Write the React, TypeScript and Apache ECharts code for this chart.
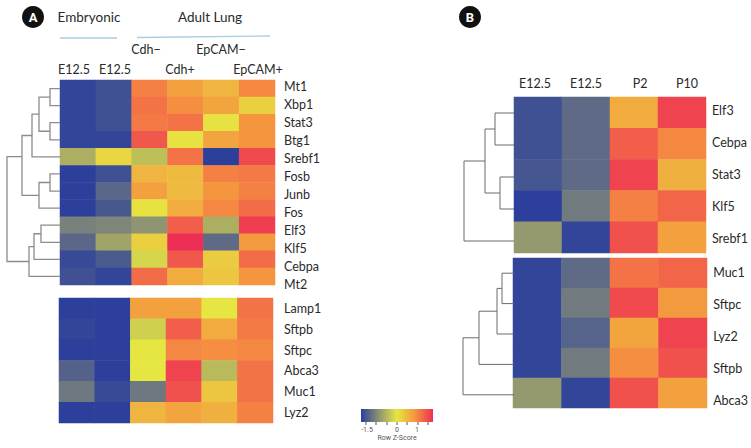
import React, { useEffect, useRef } from "react";
import * as echarts from "echarts";

const FONT = "Lato, Roboto, 'Noto Sans', sans-serif";
const WIDE = "Roboto, 'Noto Sans', sans-serif";
const INK = "#2a2a2a";

const colsA = ["E12.5", "E12.5", "Cdh−", "Cdh+", "EpCAM−", "EpCAM+"];
const colsB = ["E12.5", "E12.5", "P2", "P10"];
const rowsA1 = ["Mt1", "Xbp1", "Stat3", "Btg1", "Srebf1", "Fosb", "Junb", "Fos", "Elf3", "Klf5", "Cebpa", "Mt2"];
const rowsA2 = ["Lamp1", "Sftpb", "Sftpc", "Abca3", "Muc1", "Lyz2"];
const rowsB1 = ["Elf3", "Cebpa", "Stat3", "Klf5", "Srebf1"];
const rowsB2 = ["Muc1", "Sftpc", "Lyz2", "Sftpb", "Abca3"];

const valuesA1 = [
  [-1.45, -1.35, 0.9, 0.65, 0.45, 0.85],
  [-1.45, -1.35, 1.0, 0.8, 0.6, 0.2],
  [-1.45, -1.35, 0.95, 1.0, 0.05, 0.75],
  [-1.45, -1.45, 1.2, 0.05, 0.6, 0.75],
  [-0.5, 0.15, -0.35, 1.0, -1.5, 1.3],
  [-1.5, -1.35, 0.45, 0.4, 0.9, 0.95],
  [-1.5, -1.15, 0.65, 0.4, 0.75, 0.9],
  [-1.5, -1.28, 0.05, 0.55, 0.85, 1.05],
  [-0.92, -0.88, -0.75, 1.15, -0.5, 1.4],
  [-1.15, -0.6, 0.2, 1.5, -1.12, 0.7],
  [-1.4, -1.25, -0.15, 1.2, 0.25, 1.05],
  [-1.35, -1.45, 1.05, 0.55, 0.3, 0.75],
];
const valuesA2 = [
  [-1.5, -1.5, 0.65, 0.65, 0.0, 1.0],
  [-1.45, -1.5, -0.2, 1.15, 0.55, 0.95],
  [-1.5, -1.5, 0.0, 0.85, 0.8, 0.85],
  [-1.2, -1.5, 0.0, 1.35, -0.4, 1.0],
  [-1.0, -1.4, -1.0, 1.25, 0.3, 1.0],
  [-1.5, -1.5, 0.45, 0.6, 0.5, 0.9],
];
const valuesB1 = [
  [-1.35, -1.12, 0.55, 1.35],
  [-1.35, -1.12, 1.15, 0.85],
  [-1.3, -1.12, 1.35, 0.5],
  [-1.5, -0.98, 0.9, 1.1],
  [-0.7, -1.45, 1.25, 0.65],
];
const valuesB2 = [
  [-1.45, -1.12, 1.0, 1.1],
  [-1.45, -0.98, 1.3, 0.7],
  [-1.45, -1.18, 0.6, 1.35],
  [-1.45, -0.98, 0.8, 1.25],
  [-0.7, -1.45, 1.25, 0.65],
];

// Dendrograms: a node is [height, child, child, optional attach row]; a leaf is its row index.
const treeA1: any = [
  53,
  [38, [28, [21, [10, 0, 1], [10, 2, 3]], 4], [21, [10, 5, 6], 7], 4.48],
  [31, [26, [19, 8, 9], 10], 11],
];
const treeB1: any = [50, [29, [19, 0, 1], [14, 2, 3]], 4];
const treeB2: any = [51, [35, [17, [12, 0, 1], 2], 3], 4];

const scaleColors = ["#2b3f9b", "#8f9472", "#e6e642", "#f5953e", "#ee2f55"];
const scaleTicks = ["-1.5", "0", "1"];

function flatten(node: any, out: number[][]): { y: number; h: number } {
  if (typeof node === "number") return { y: node + 0.5, h: 0 };
  const a = flatten(node[1], out);
  const b = flatten(node[2], out);
  out.push([node[0], a.y, a.h, b.y, b.h]);
  return { y: node[3] !== undefined ? node[3] : (a.y + b.y) / 2, h: node[0] };
}

const panels = [
  { rows: rowsA1, cols: colsA, values: valuesA1, l: 60, t: 80, w: 215, h: 205, lt: 77, lh: 216, margin: 9 },
  { rows: rowsA2, cols: colsA, values: valuesA2, l: 59, t: 298, w: 214, h: 125, lt: 298, lh: 125, margin: 11 },
  { rows: rowsB1, cols: colsB, values: valuesB1, l: 514, t: 97, w: 192, h: 156, lt: 94, lh: 160, margin: 7 },
  { rows: rowsB2, cols: colsB, values: valuesB2, l: 513, t: 258, w: 194, h: 150, lt: 256, lh: 160, margin: 7 },
];
const dendros = [
  { tree: treeA1, l: 0, w: 60, t: 80, h: 205, max: 60, stroke: "#8c8c8c", lw: 1.3 },
  { tree: treeB1, l: 420, w: 94, t: 97, h: 160, max: 94, stroke: "#6a6a6a", lw: 1 },
  { tree: treeB2, l: 420, w: 94, t: 258, h: 152, max: 94, stroke: "#6a6a6a", lw: 1 },
];

function headerText(text: string, x: number, y: number, size = 12.5) {
  return {
    type: "text",
    x,
    y,
    style: { text, fill: INK, font: `${size}px ${FONT}`, textAlign: "center", textVerticalAlign: "middle" },
  };
}

function badge(letter: string, x: number) {
  return [
    { type: "circle", shape: { cx: x, cy: 17, r: 11 }, style: { fill: "#111111" } },
    {
      type: "text",
      x,
      y: 17,
      style: { text: letter, fill: "#ffffff", font: `bold 13px ${WIDE}`, textAlign: "center", textVerticalAlign: "middle" },
    },
  ];
}

function smallText(text: string, x: number, y: number) {
  return {
    type: "text",
    x,
    y,
    style: { text, fill: "#555", font: `7px ${WIDE}`, textAlign: "center", textVerticalAlign: "middle" },
  };
}

function buildOption() {
  const grid: any[] = [];
  const xAxis: any[] = [];
  const yAxis: any[] = [];
  const series: any[] = [];
  const heatIndex: number[] = [];

  panels.forEach((p) => {
    const gi = grid.length;
    grid.push({ left: p.l, top: p.t, width: p.w, height: p.h });
    xAxis.push({ type: "category", gridIndex: gi, data: p.cols, show: false });
    yAxis.push({ type: "category", gridIndex: gi, data: p.rows, inverse: true, show: false });
    heatIndex.push(series.length);
    series.push({
      type: "heatmap",
      xAxisIndex: gi,
      yAxisIndex: gi,
      data: p.values.flatMap((row, r) => row.map((v, c) => [c, r, v])),
      emphasis: { disabled: true },
    });
  });

  panels.forEach((p) => {
    const gi = grid.length;
    grid.push({ left: p.l, top: p.lt, width: p.w, height: p.lh });
    xAxis.push({ type: "category", gridIndex: gi, data: p.cols, show: false });
    yAxis.push({
      type: "category",
      gridIndex: gi,
      data: p.rows,
      inverse: true,
      position: "right",
      axisLine: { show: false },
      axisTick: { show: false },
      axisLabel: { color: INK, fontFamily: FONT, fontSize: 12.5, margin: p.margin, interval: 0 },
    });
  });

  dendros.forEach((d) => {
    const gi = grid.length;
    const n = d === dendros[0] ? rowsA1.length : rowsB1.length;
    const segs: number[][] = [];
    flatten(d.tree, segs);
    grid.push({ left: d.l, top: d.t, width: d.w, height: d.h });
    xAxis.push({ type: "value", gridIndex: gi, min: 0, max: d.max, inverse: true, show: false });
    yAxis.push({ type: "value", gridIndex: gi, min: 0, max: n, inverse: true, show: false });
    series.push({
      type: "custom",
      xAxisIndex: gi,
      yAxisIndex: gi,
      silent: true,
      clip: false,
      data: segs,
      encode: { x: 0, y: 1 },
      renderItem: (_: any, api: any) => {
        const [h, y0, h0, y1, h1] = [0, 1, 2, 3, 4].map((i) => api.value(i));
        return {
          type: "polyline",
          shape: { points: [api.coord([h0, y0]), api.coord([h, y0]), api.coord([h, y1]), api.coord([h1, y1])] },
          style: { fill: "none", stroke: d.stroke, lineWidth: d.lw },
        };
      },
    });
  });

  const legendTicks = [366, 376, 387, 397, 407, 418, 428].map((x) => ({
    type: "line",
    shape: { x1: x, y1: 422, x2: x, y2: 425 },
    style: { stroke: "#555555", lineWidth: 1 },
  }));

  const graphic: any[] = [
    ...badge("A", 33),
    ...badge("B", 470),
    headerText("Embryonic", 89, 17, 13.5),
    headerText("Adult Lung", 210, 17, 13.5),
    { type: "line", shape: { x1: 60, y1: 38, x2: 117, y2: 38 }, style: { stroke: "#a9cde2", lineWidth: 1.3 } },
    { type: "line", shape: { x1: 137, y1: 37.5, x2: 270, y2: 36 }, style: { stroke: "#a9cde2", lineWidth: 1.3 } },
    headerText(colsA[2], 146, 49),
    headerText(colsA[4], 221, 49),
    headerText(colsA[0], 74, 69),
    headerText(colsA[1], 115, 69),
    headerText(colsA[3], 180, 69),
    headerText(colsA[5], 258, 69),
    headerText(colsB[0], 535, 83),
    headerText(colsB[1], 586, 83),
    headerText(colsB[2], 640, 83),
    headerText(colsB[3], 687, 83),
    {
      type: "rect",
      shape: { x: 361, y: 409, width: 72, height: 13 },
      style: {
        fill: new echarts.graphic.LinearGradient(
          0,
          0,
          1,
          0,
          scaleColors.map((color, i) => ({ offset: i / (scaleColors.length - 1), color }))
        ),
      },
    },
    ...legendTicks,
    smallText(scaleTicks[0], 367, 430),
    smallText(scaleTicks[1], 397, 430),
    smallText(scaleTicks[2], 417, 430),
    smallText("Row Z-Score", 397, 438),
  ];

  return {
    animation: false,
    backgroundColor: "#ffffff",
    grid,
    xAxis,
    yAxis,
    series,
    graphic,
    visualMap: {
      type: "continuous",
      show: false,
      min: -1.5,
      max: 1.5,
      dimension: 2,
      seriesIndex: heatIndex,
      inRange: { color: scaleColors },
    },
  };
}

export default function App() {
  const ref = useRef<HTMLDivElement>(null);
  useEffect(() => {
    document.body.style.margin = "0";
    const chart = echarts.init(ref.current!, null, { renderer: "svg" });
    chart.setOption(buildOption() as any);
    return () => chart.dispose();
  }, []);
  return <div ref={ref} style={{ width: 751, height: 448 }} />;
}
